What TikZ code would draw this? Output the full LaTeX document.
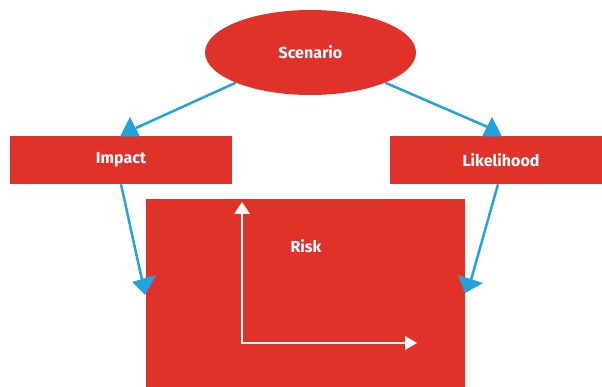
\documentclass[tikz,border=0pt]{standalone}
\usepackage{fontspec}
\setmainfont{Fira Sans}
\usetikzlibrary{shapes.geometric}
\definecolor{boxred}{RGB}{225,50,42}
\definecolor{linkblue}{RGB}{34,163,221}
\begin{document}
\begin{tikzpicture}[x=1pt,y=-1pt,
  redbox/.style={draw=none,fill=boxred,text=white,inner sep=0pt,font=\bfseries\fontsize{16}{19}\selectfont},
  link/.style={draw=linkblue,line width=2.5pt},
  linktip/.style={fill=linkblue},
  axisline/.style={draw=white,line width=1.3pt},
  axistip/.style={fill=white}]
\useasboundingbox (0,0) rectangle (602,387);
% nodes
\node[redbox,ellipse,minimum width=211pt,minimum height=85pt] (scen) at (310.5,52.5) {Scenario};
\node[redbox,rectangle,minimum width=222pt,minimum height=48pt] (impact) at (121,160) {Impact};
\node[redbox,rectangle,minimum width=222pt,minimum height=48pt] (likeli) at (501,160) {Likelihood};
\node[redbox,rectangle,minimum width=319pt,minimum height=200pt,anchor=north west] (risk) at (146,199) {};
\node[text=white,inner sep=0pt,font=\bfseries\fontsize{16}{19}\selectfont] (risklabel) at (306,246) {Risk};
% connectors from Scenario
\coordinate (tl) at (136,128);
\coordinate (tr) at (490,128);
\draw[link] (scen.south west) -- (tl);
\draw[link] (scen.south east) -- (tr);
\fill[linktip] (130,117) -- (140,136.5) -- (120,136.5) -- cycle;
\fill[linktip] (492,117) -- (502,136.5) -- (482,136.5) -- cycle;
% connectors to Risk
\coordinate (bl) at (142,280);
\coordinate (br) at (471,280);
\draw[link] (impact.south) -- (bl);
\draw[link] (likeli.south -| 498,0) -- (br);
\fill[linktip] (132,282) -- (156,275) -- (145,295) -- cycle;
\fill[linktip] (458,275) -- (483,283) -- (465,293) -- cycle;
% axes in Risk
\coordinate (origin) at (242,343);
\coordinate (ytop) at (242,214);
\coordinate (xend) at (405,343);
\draw[axisline] (ytop) -- (origin) -- (xend);
\fill[axistip] (242,202) -- (250,214) -- (234,214) -- cycle;
\fill[axistip] (417,343) -- (405,350) -- (405,336) -- cycle;
\end{tikzpicture}
\end{document}
